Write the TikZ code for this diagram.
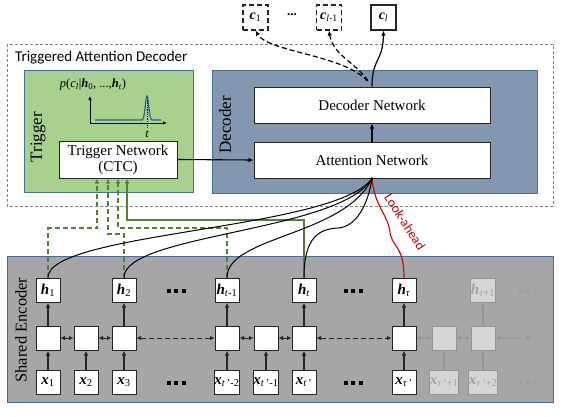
\documentclass[tikz,border=0pt]{standalone}
\usepackage{fontspec}
\setmainfont{Liberation Serif}
\newfontfamily\calfont{Carlito}
\usetikzlibrary{arrows.meta,calc}
\definecolor{tgreen}{RGB}{169,209,142}
\definecolor{dblue}{RGB}{132,151,176}
\definecolor{egray}{RGB}{166,166,166}
\definecolor{bord}{RGB}{65,113,156}
\definecolor{lgreen}{RGB}{84,130,53}
\definecolor{curveblue}{RGB}{50,90,160}
\definecolor{lared}{RGB}{200,0,0}
\definecolor{fadefill}{RGB}{214,214,214}
\definecolor{fadedraw}{RGB}{150,150,150}
\definecolor{fadetext}{RGB}{160,160,160}
\newcommand{\bi}[1]{\textbf{\textit{#1}}}
\newcommand{\sub}[1]{\textsubscript{#1}}
\begin{document}
\begin{tikzpicture}[x=1pt,y=-1pt,
  panel/.style={draw=bord,line width=0.7pt},
  ldash/.style={dash pattern=on 5pt off 3pt},
  netbox/.style={draw=black!85,line width=1pt,fill=white,inner sep=0pt,font=\fontsize{15}{17}\selectfont},
  cell/.style={draw=black!85,line width=1pt,fill=white,minimum width=24pt,minimum height=24pt,inner sep=0pt,font=\fontsize{15}{17}\selectfont},
  fcell/.style={cell,draw=fadedraw,fill=fadefill,text=fadetext},
  cbox/.style={draw=black!85,line width=1.1pt,fill=white,minimum width=25pt,minimum height=25pt,inner sep=0pt,font=\fontsize{14}{16}\selectfont},
  vup/.style={line width=1.4pt,black!85,-{Latex[length=5pt,width=4.5pt]}},
  hlink/.style={line width=1pt,black!85,{Latex[length=4.5pt,width=4.5pt]}-{Latex[length=4.5pt,width=4.5pt]}},
  fvup/.style={vup,fadedraw},
  fhlink/.style={hlink,fadedraw},
  att/.style={line width=1pt,black},
  gline/.style={line width=1.1pt,lgreen,-{Latex[length=5pt,width=4.5pt]}},
  tip/.style={-{Latex[length=5pt,width=4.5pt]}}
]
\useasboundingbox (0,0) rectangle (573,416);

% outer triggered attention decoder box
\draw[densely dashed,gray,line width=0.5pt] (7,44) rectangle (553,206);
\node[anchor=west,font=\calfont\fontsize{15}{17}\selectfont,inner sep=0pt] (tadlabel) at (15,58) {Triggered Attention Decoder};

% trigger panel
\fill[tgreen] (24,70) rectangle (193,192);
\draw[panel] (24,70) rectangle (193,192);
\node[rotate=90,font=\fontsize{17}{19}\selectfont] (triglabel) at (38,137) {Trigger};

% decoder panel
\fill[dblue] (212,70) rectangle (537,193);
\draw[panel] (212,70) rectangle (537,193);
\node[rotate=90,font=\fontsize{17}{19}\selectfont] (declabel) at (225,125) {Decoder};

% encoder panel
\fill[egray] (7,256) rectangle (553,402);
\draw[panel] (7,256) rectangle (553,402);
\node[rotate=90,font=\fontsize{16.5}{18}\selectfont] (enclabel) at (21,330) {Shared Encoder};

% plot
\node[font=\fontsize{12.5}{14}\selectfont,inner sep=0pt] (plabel) at (93,85) {\textit{p}(\textit{c}\sub{\textit{l}}|\bi{h}\sub{0}, ...,\bi{h}\sub{\textit{t}})};
\coordinate (orig) at (90,123);
\coordinate (yend) at (90,96);
\coordinate (xend) at (167,123);
\draw[line width=0.8pt,-{Latex[length=4pt,width=3.5pt]}] (orig) -- (yend);
\draw[line width=0.8pt,-{Latex[length=4pt,width=3.5pt]}] (orig) -- (xend);
\draw[densely dotted,line width=0.8pt] (147,96) -- (147,127);
\draw[curveblue,line width=1.2pt] (95,120) -- (142,120) .. controls (145,120) and (145.5,96) .. (147,96) .. controls (148.5,96) and (149,120) .. (152,120) -- (161,120);
\node[font=\fontsize{12}{14}\selectfont\itshape] (tlabel) at (147,134) {t};

% networks
\node[netbox,minimum width=118pt,minimum height=37pt,align=center] (trig) at (118,159.5) {Trigger Network\\[-1pt](CTC)};
\node[netbox,minimum width=236pt,minimum height=36pt] (dec) at (372,105) {Decoder Network};
\node[netbox,minimum width=236pt,minimum height=36pt] (att) at (372,160) {Attention Network};
\draw[line width=1.1pt,tip] (trig.east) -- (att.west);
\draw[line width=1.1pt,tip] (att.north) -- (dec.south);

% output boxes
\node[cbox,ldash] (c1) at (255.5,17.5) {\bi{c}\sub{1}};
\node[cbox,ldash] (cl1) at (329,17.5) {\bi{c}\sub{\textit{l}-1}};
\node[cbox] (cl) at (383.5,17.5) {\bi{c}\sub{\textit{l}}};
\node[font=\fontsize{13}{15}\selectfont\bfseries] (cdots) at (292,15) {...};
\draw[line width=1.2pt,ldash,tip,shorten <=7pt] (dec.north) .. controls (345,55) and (268,52) .. (c1.south);
\draw[line width=1.2pt,ldash,tip,shorten <=7pt] (dec.north) .. controls (355,62) and (333,55) .. (cl1.south);
\draw[line width=1.2pt,tip] (dec.north) .. controls (372,58) and (383,62) .. (cl.south);

% encoder cells
\foreach \n/\xx in {1/48,2/86,3/124,4/227,5/266,6/304,7/404}{
  \node[cell] (r\n) at (\xx,338) {};
}
\node[fcell] (r8) at (444,338) {};
\node[fcell] (r9) at (483,338) {};

\node[cell] (x1) at (48,382) {\bi{x}\sub{1}};
\node[cell] (x2) at (86,382) {\bi{x}\sub{2}};
\node[cell] (x3) at (124,382) {\bi{x}\sub{3}};
\node[cell] (x4) at (227,382) {\bi{x}\sub{\textit{t}\,'-2}};
\node[cell] (x5) at (266,382) {\bi{x}\sub{\textit{t}\,'-1}};
\node[cell] (x6) at (304,382) {\bi{x}\sub{\textit{t}\,'}};
\node[cell] (x7) at (404,382) {\bi{x}\sub{\textit{τ}\,'}};
\node[fcell] (x8) at (444,382) {\bi{x}\sub{\textit{τ}\,'+1}};
\node[fcell] (x9) at (483,382) {\bi{x}\sub{\textit{τ}\,'+2}};

\node[cell] (h1) at (48,290) {\bi{h}\sub{1}};
\node[cell] (h3) at (124,290) {\bi{h}\sub{2}};
\node[cell] (h4) at (227,290) {\bi{h}\sub{\textit{t}-1}};
\node[cell] (h6) at (304,290) {\bi{h}\sub{\textit{t}}};
\node[cell] (h7) at (404,290) {\bi{h}\sub{\textit{τ}}};
\node[fcell] (h9) at (483,290) {\bi{h}\sub{\textit{τ}+1}};

% ellipsis dots (square dots)
\foreach \cx/\cy/\cc in {176/291/black,176/383/black,353/291/black,353/383/black,527/291/fadetext,527/383/fadetext}{
  \foreach \dx in {-7.5,0,7.5}{
    \fill[\cc] (\cx+\dx-2,\cy-2) rectangle (\cx+\dx+2,\cy+2);
  }
}

% vertical arrows
\foreach \n in {1,2,3,4,5,6,7}{ \draw[vup] (x\n) -- (r\n); }
\foreach \n in {8,9}{ \draw[fvup] (x\n) -- (r\n); }
\foreach \n in {1,3,4,6,7}{ \draw[vup] (r\n) -- (h\n); }
\draw[fvup] (r9) -- (h9);

% horizontal links
\draw[hlink] (r1) -- (r2);
\draw[hlink] (r2) -- (r3);
\draw[hlink,ldash] (r3) -- (r4);
\draw[hlink] (r4) -- (r5);
\draw[hlink] (r5) -- (r6);
\draw[hlink,ldash] (r6) -- (r7);
\draw[fhlink] (r7) -- (r8);
\draw[fhlink] (r8) -- (r9);
\coordinate (rend) at (531,338);
\draw[fhlink,ldash] (r9) -- (rend);

% trigger inputs (green)
\draw[gline,ldash] (h1.north) |- (97,228) -- (97,0 |- trig.south);
\draw[gline,ldash] (h3.north) |- (108,234) -- (108,0 |- trig.south);
\draw[gline,ldash] (h4.north) |- (118,228) -- (118,0 |- trig.south);
\draw[gline] (h6.north) |- (127,220) -- (127,0 |- trig.south);

% attention inputs
\draw[att] (h1.north) .. controls (48,232) and (335,230) .. (att.south);
\draw[att] (h3.north) .. controls (124,234) and (340,232) .. (att.south);
\draw[att] (h4.north) .. controls (227,236) and (345,236) .. (att.south);
\draw[att] (h6.north) .. controls (304,236) and (320,229) .. (338,228) .. controls (356,227) and (368,205) .. (att.south);
\draw[lared,line width=1.1pt] (h7.north) .. controls (404,245) and (392,248) .. (390,232) .. controls (388,215) and (374,205) .. (att.south);
\node[lared,rotate=-57,font=\calfont\fontsize{13.5}{15}\selectfont] (lalabel) at (405,222) {Look-ahead};
\fill (att.south) circle (1.3pt);
\end{tikzpicture}
\end{document}
